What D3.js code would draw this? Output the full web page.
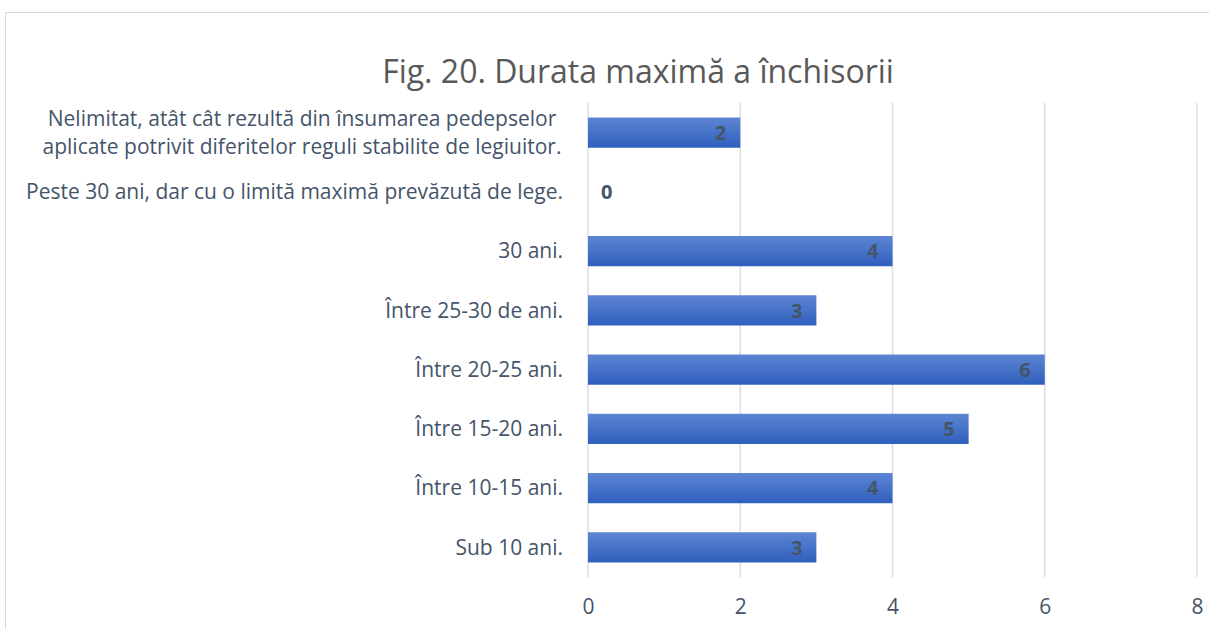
<!DOCTYPE html>
<html><head><meta charset="utf-8">
<script src="https://cdn.jsdelivr.net/npm/d3@7"></script>
<style>body{margin:0;background:#fff}svg{display:block}</style>
</head><body>
<script>
const categories = [
  ["Nelimitat, atât cât rezultă din însumarea pedepselor", "aplicate potrivit diferitelor reguli stabilite de legiuitor."],
  ["Peste 30 ani, dar cu o limită maximă prevăzută de lege."],
  ["30 ani."],
  ["Între 25-30 de ani."],
  ["Între 20-25 ani."],
  ["Între 15-20 ani."],
  ["Între 10-15 ani."],
  ["Sub 10 ani."]
];
const values = [2, 0, 4, 3, 6, 5, 4, 3];
const xTicks = [0, 2, 4, 6, 8];
const title = "Fig. 20. Durata maximă a închisorii";

const W = 1209, H = 629;
const svg = d3.select("body").append("svg").attr("width", W).attr("height", H);
const font = "'Open Sans', sans-serif";

const defs = svg.append("defs");
const g = defs.append("linearGradient").attr("id","bg").attr("x1",0).attr("y1",0).attr("x2",0).attr("y2",1);
g.append("stop").attr("offset","0%").attr("stop-color","#5d85d3");
g.append("stop").attr("offset","100%").attr("stop-color","#2f5fbd");

svg.append("rect").attr("x",5.5).attr("y",12.5).attr("width",W).attr("height",H)
  .attr("fill","#fff").attr("stroke","#d9d9d9");

svg.append("text").attr("x",638).attr("y",83).attr("text-anchor","middle")
  .attr("font-family",font).attr("font-size",32).attr("fill","#595959").text(title);

const x = d3.scaleLinear().domain([0,8]).range([588,1197]);
const y = d3.scaleBand().domain(d3.range(categories.length)).range([103,577]).paddingInner(0.49).paddingOuter(0.245);

svg.append("g").selectAll("line").data(xTicks).join("line")
  .attr("x1",d=>x(d)).attr("x2",d=>x(d)).attr("y1",103).attr("y2",577)
  .attr("stroke","#d9dde4").attr("stroke-width",1.5);

const axis = svg.append("g").attr("transform","translate(0,577)")
  .call(d3.axisBottom(x).tickValues(xTicks).tickSize(0).tickPadding(22));
axis.select(".domain").remove();
axis.selectAll("text").attr("font-family",font).attr("font-size",21).attr("fill","#44546a");

svg.append("g").selectAll("rect").data(values).join("rect")
  .attr("x",x(0)).attr("y",(d,i)=>y(i)).attr("width",d=>x(d)-x(0)).attr("height",y.bandwidth())
  .attr("fill","url(#bg)");

svg.append("g").selectAll("text").data(values).join("text")
  .attr("x",d=> d===0 ? x(0)+13 : x(d)-14)
  .attr("text-anchor",d=> d===0 ? "start" : "end")
  .attr("y",(d,i)=>y(i)+y.bandwidth()/2).attr("dy","0.36em")
  .attr("font-family",font).attr("font-size",20).attr("font-weight","bold").attr("fill","#44546a")
  .text(d=>d);

const lab = svg.append("g").selectAll("text").data(categories).join("text")
  .attr("font-family",font).attr("font-size",21).attr("fill","#44546a")
  .attr("text-anchor","middle");
lab.each(function(lines,i){
  const t = d3.select(this);
  const cy = y(i)+y.bandwidth()/2;
  const lh = 28;
  lines.forEach((l,j)=>{
    t.append("tspan").attr("x", 302).attr("y", cy + (j-(lines.length-1)/2)*lh).attr("dy","0.35em").text(l);
  });
});
lab.filter(d=>d.length===1).attr("text-anchor","end").selectAll("tspan").attr("x",563);
</script>
</body></html>
